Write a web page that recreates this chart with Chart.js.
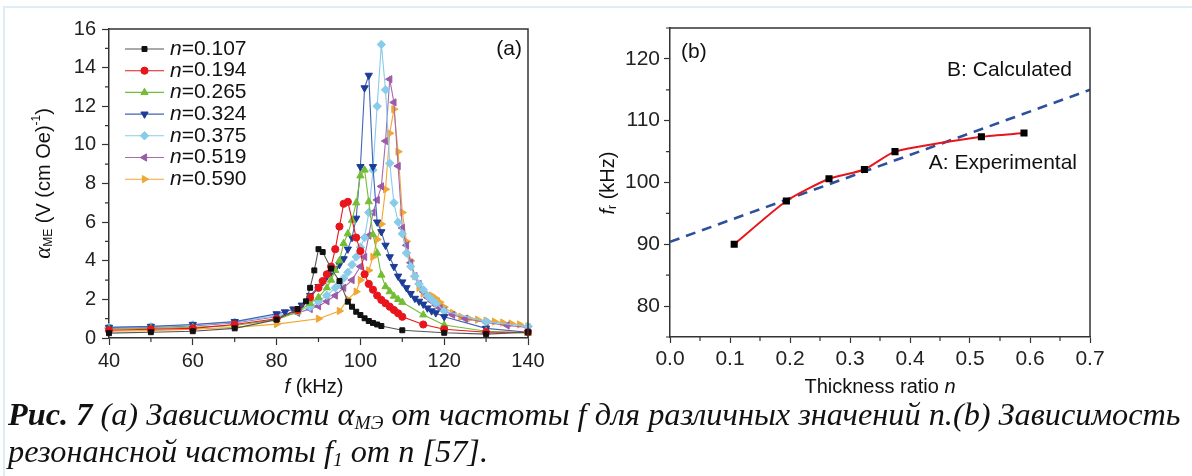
<!DOCTYPE html>
<html lang="ru">
<head>
<meta charset="UTF-8">
<title>Рис. 7</title>
<script src="https://cdn.jsdelivr.net/npm/chart.js@4.4.1/dist/chart.umd.min.js"></script>
<style>
  body { margin: 0; background: #fff; width: 1192px; height: 476px; position: relative; overflow: hidden; }
  .frame { position: absolute; left: 3px; top: 6px; right: 0; bottom: 0; border-top: 2px solid #dceff9; border-left: 2px solid #dceff9; }
  canvas { position: absolute; top: 0; }
  #caption { position: absolute; left: 8px; top: 396px; font-family: 'Liberation Serif', 'Times New Roman', serif; font-style: italic; font-size: 32.3px; line-height: 37px; color: #111; white-space: nowrap; }
  #caption sub { font-size: 60%; vertical-align: -4px; line-height: 0; }
</style>
</head>
<body>
<div class="frame"></div>
<canvas id="chartA" width="580" height="400" style="left:0"></canvas>
<canvas id="chartB" width="612" height="400" style="left:580px"></canvas>
<div id="caption"><b>Рис. 7</b> (a) Зависимости α<sub>МЭ</sub> от частоты f для различных значений n.(b) Зависимость<br>резонансной частоты f<sub>1</sub> от n [57].</div>

<script>
// (a) alpha_ME vs frequency, one pair of arrays per thickness ratio
var freq107 = [40,50,60,70,80,85,87,88,89,90,91,93,95,97,98,99,100,101,102,103,104,105,110,120,130,140]
var alpha107 = [0.25,0.3,0.35,0.5,0.95,1.5,1.9,2.6,3.5,4.6,4.45,3.6,2.95,1.88,1.62,1.36,1.19,1.02,0.88,0.78,0.7,0.62,0.4,0.27,0.2,0.3]

var freq194 = [40,50,60,70,80,85,88,90,91,92,93,94,95,96,97,99,100,101,102,103,104,105,106,107,108,109,110,115,120,130,140]
var alpha194 = [0.4,0.45,0.5,0.7,1.0,1.45,2.1,2.6,2.95,3.3,3.7,4.6,5.77,6.95,7.05,5.2,4.5,3.3,2.8,2.5,2.2,1.97,1.8,1.62,1.45,1.28,1.1,0.7,0.45,0.3,0.3]

var freq265 = [40,50,60,70,80,85,88,90,92,93,94,95,96,97,98,99,100,101,102,103,104,105,106,107,108,109,110,115,120,130,140]
var alpha265 = [0.45,0.5,0.55,0.65,0.95,1.35,1.8,2.1,2.6,3.0,3.5,4.0,4.9,5.4,6.1,7.0,8.4,8.7,7.06,5.35,4.4,3.26,2.66,2.4,2.17,2.0,1.85,1.2,0.67,0.35,0.25]

var freq324 = [40,50,60,70,80,82,84,86,88,90,91,92,93,94,95,96,97,98,99,100,101,102,103,104,105,106,107,108,109,110,111,112,113,114,115,116,117,118,120,130,140]
var alpha324 = [0.55,0.6,0.7,0.85,1.25,1.35,1.5,1.7,2.2,2.66,2.9,3.2,3.4,3.6,3.8,4.1,4.6,5.2,6.2,8.87,12.95,13.6,8.87,6.0,5.5,4.8,4.2,3.7,3.2,2.9,2.6,2.3,2.05,1.9,1.75,1.55,1.4,1.3,1.1,0.5,0.3]

var freq375 = [40,50,60,70,80,85,88,90,92,94,95,96,97,98,99,100,101,102,103,104,105,106,107,108,109,110,111,112,113,114,115,116,117,118,120,130,140]
var alpha375 = [0.55,0.58,0.68,0.82,1.15,1.4,1.6,1.9,2.2,2.6,2.8,3.1,3.4,3.8,4.2,4.7,5.2,6.5,8.7,12.0,15.2,12.85,9.05,7.0,6.0,5.4,4.4,3.7,3.2,2.8,2.5,2.2,2.0,1.8,1.4,0.85,0.6]

var freq519 = [40,50,60,70,80,85,88,90,92,94,96,98,100,101,102,103,104,105,106,107,108,109,110,111,112,113,114,115,116,117,118,119,120,122,125,130,135,140]
var alpha519 = [0.5,0.55,0.62,0.78,1.1,1.3,1.5,1.65,1.9,2.2,2.6,3.0,3.7,4.2,5.3,6.5,7.15,7.85,10.2,13.4,12.2,8.9,5.7,4.8,3.9,3.2,2.8,2.4,2.1,1.9,1.7,1.55,1.4,1.2,1.0,0.8,0.65,0.55]

var freq590 = [40,50,60,70,80,90,95,97,99,100,102,103,104,105,106,107,108,109,110,111,112,113,114,115,116,117,118,119,120,122,124,126,128,130,132,134,136,138,140]
var alpha590 = [0.35,0.38,0.45,0.55,0.72,1.0,1.4,2.0,2.4,3.0,3.5,4.2,5.1,5.9,7.7,10.6,11.85,9.65,6.5,5.0,4.0,3.2,2.6,2.3,2.25,2.2,2.05,1.85,1.6,1.3,1.1,1.0,0.95,0.9,0.85,0.8,0.75,0.7,0.6]

var nLabels = ["0.107", "0.194", "0.265", "0.324", "0.375", "0.519", "0.590"]

// (b) resonance frequency vs thickness ratio
var nExp = [0.107, 0.194, 0.265, 0.324, 0.375, 0.519, 0.590]
var frExp = [90, 97, 100.6, 102.1, 105, 107.4, 108]
var nCalc = [0, 0.7]
var frCalc = [90.4, 115]
</script>

<script>
Chart.defaults.font.family = "'Liberation Sans', Arial, sans-serif";
Chart.defaults.color = '#222';

function pts(xs, ys) {
    var out = [];
    for (var i = 0; i < xs.length; i++) out.push({x: xs[i], y: ys[i]});
    return out;
}

function isMajor(v, every) {
    var k = Math.round(v / every * 1000) / 1000;
    return Math.abs(k - Math.round(k)) < 1e-6;
}

// draws a run of text pieces (font / vertical shift) centred on x,y
function rich(ctx, parts, x, y, angle) {
    var w = 0;
    parts.forEach(function(p) { ctx.font = p[1]; w += ctx.measureText(p[0]).width; });
    ctx.save();
    ctx.translate(x, y);
    ctx.rotate(angle || 0);
    ctx.textBaseline = 'middle';
    ctx.textAlign = 'left';
    var cx = -w / 2;
    parts.forEach(function(p) {
        ctx.font = p[1];
        ctx.fillText(p[0], cx, p[2] || 0);
        cx += ctx.measureText(p[0]).width;
    });
    ctx.restore();
}

// top/right frame plus short minor ticks
function boxLines(chart) {
    var ctx = chart.ctx, a = chart.chartArea;
    ctx.save();
    ctx.strokeStyle = '#333';
    ctx.lineWidth = 1.5;
    ctx.beginPath();
    ctx.moveTo(a.left, a.top);
    ctx.lineTo(a.right, a.top);
    ctx.lineTo(a.right, a.bottom);
    ctx.stroke();
    ctx.lineWidth = 1.2;
    var sx = chart.scales.x, sy = chart.scales.y;
    ctx.beginPath();
    sx.ticks.forEach(function(t) {
        if (isMajor(t.value, sx.options.every)) return;
        var px = sx.getPixelForValue(t.value);
        ctx.moveTo(px, a.bottom); ctx.lineTo(px, a.bottom + 4);
    });
    sy.ticks.forEach(function(t) {
        if (isMajor(t.value, sy.options.every)) return;
        var py = sy.getPixelForValue(t.value);
        ctx.moveTo(a.left, py); ctx.lineTo(a.left - 4, py);
    });
    ctx.stroke();
    ctx.restore();
}

function axisStyle(min, max, step, size, every, len) {
    return {
        type: 'linear', min: min, max: max, every: every,
        ticks: {
            stepSize: step, autoSkip: false, maxRotation: 0, padding: 4,
            font: {size: size}, color: '#222',
            callback: function(v) {
                if (!isMajor(v, every)) return '';
                return every < 1 ? v.toFixed(1) : v;
            }
        },
        grid: {
            drawOnChartArea: false, drawTicks: true, tickLength: len, tickWidth: 1.2,
            tickColor: function(c) { return c.tick && isMajor(c.tick.value, every) ? '#333' : 'rgba(0,0,0,0)'; }
        },
        border: {color: '#333', width: 1.5}
    };
}

var series = [
    {f: freq107, a: alpha107, c: '#111111', l: '#555555', s: 'rect', r: 3.5, rot: 0},
    {f: freq194, a: alpha194, c: '#e8161c', l: '#e8161c', s: 'circle', r: 3.6, rot: 0},
    {f: freq265, a: alpha265, c: '#74bd34', l: '#74bd34', s: 'triangle', r: 4.2, rot: 0},
    {f: freq324, a: alpha324, c: '#1d3c95', l: '#4563b4', s: 'triangle', r: 4.2, rot: 180},
    {f: freq375, a: alpha375, c: '#88cbea', l: '#88cbea', s: 'rectRot', r: 4.2, rot: 0},
    {f: freq519, a: alpha519, c: '#9c5ba8', l: '#a66bb0', s: 'triangle', r: 4.2, rot: 270},
    {f: freq590, a: alpha590, c: '#f0a733', l: '#f0a733', s: 'triangle', r: 4.2, rot: 90}
]

var dsA = series.map(function(s, i) {
    return {
        label: 'n=' + nLabels[i],
        data: pts(s.f, s.a),
        showLine: true,
        borderColor: s.l, borderWidth: 1.1,
        pointStyle: s.s, pointRadius: s.r, pointRotation: s.rot,
        pointBackgroundColor: s.c, pointBorderColor: s.c, pointBorderWidth: 1,
        clip: 8
    };
});

var xA = axisStyle(40, 140, 10, 20, 20, 7);
xA.afterFit = function(s) { s.height = 62; };
var yA = axisStyle(0, 16, 1, 20, 2, 7);
yA.ticks.padding = 6;
yA.afterFit = function(s) { s.width = 109; };

new Chart(document.getElementById('chartA'), {
    type: 'scatter',
    data: {datasets: dsA},
    options: {
        responsive: false, animation: false, events: [],
        layout: {padding: {left: 0, top: 29, right: 52, bottom: 0}},
        plugins: {legend: {display: false}, tooltip: {enabled: false}},
        scales: {x: xA, y: yA}
    },
    plugins: [{
        id: 'decorA',
        afterDraw: function(chart) {
            var ctx = chart.ctx;
            boxLines(chart);
            ctx.save();
            ctx.fillStyle = '#111';
            // in-plot legend
            series.forEach(function(s, i) {
                var y = 49 + i * 21.7;
                ctx.strokeStyle = s.l;
                ctx.lineWidth = 1.1;
                ctx.beginPath(); ctx.moveTo(125, y); ctx.lineTo(164, y); ctx.stroke();
                ctx.fillStyle = s.c; ctx.strokeStyle = s.c; ctx.lineWidth = 1;
                Chart.helpers.drawPoint(ctx, {pointStyle: s.s, radius: s.r, rotation: s.rot, borderWidth: 1}, 144.5, y);
                ctx.fillStyle = '#111';
                ctx.textBaseline = 'middle';
                ctx.font = "italic 21px 'Liberation Sans'";
                ctx.fillText('n', 170, y);
                var w = ctx.measureText('n').width;
                ctx.font = "21px 'Liberation Sans'";
                ctx.fillText('=' + nLabels[i], 170 + w, y);
            });
            ctx.font = "21px 'Liberation Sans'";
            ctx.textAlign = 'right';
            ctx.fillText('(a)', 522, 49);
            ctx.restore();
            ctx.save();
            ctx.fillStyle = '#111';
            rich(ctx, [['α', "italic 23px 'Liberation Serif'"], ['ME', "12px 'Liberation Sans'", 5],
                       [' (V (cm Oe)', "20px 'Liberation Sans'"], ['-1', "12px 'Liberation Sans'", -7],
                       [')', "20px 'Liberation Sans'"]], 44, 183.5, -Math.PI / 2);
            rich(ctx, [['f', "italic 20px 'Liberation Sans'"], [' (kHz)', "20px 'Liberation Sans'"]], 314, 387);
            ctx.restore();
        }
    }]
});

var xB = axisStyle(0, 0.7, 0.05, 21, 0.1, 6);
xB.afterFit = function(s) { s.height = 63; };
var yB = axisStyle(75, 125, 5, 21, 10, 6);
yB.afterFit = function(s) { s.width = 90; };

new Chart(document.getElementById('chartB'), {
    type: 'scatter',
    data: {datasets: [
        {
            label: 'A: Experimental', data: pts(nExp, frExp), showLine: true,
            borderColor: '#e8161c', borderWidth: 2, tension: 0.2,
            pointStyle: 'rect', pointRadius: 3.6, pointBackgroundColor: '#000', pointBorderColor: '#000'
        },
        {
            label: 'B: Calculated', data: pts(nCalc, frCalc), showLine: true,
            borderColor: '#2d4f9c', borderWidth: 2.6, borderDash: [10, 7], pointRadius: 0
        }
    ]},
    options: {
        responsive: false, animation: false, events: [],
        layout: {padding: {left: 0, top: 28, right: 102, bottom: 0}},
        plugins: {legend: {display: false}, tooltip: {enabled: false}},
        scales: {x: xB, y: yB}
    },
    plugins: [{
        id: 'decorB',
        afterDraw: function(chart) {
            var ctx = chart.ctx;
            boxLines(chart);
            ctx.save();
            ctx.fillStyle = '#111';
            ctx.textBaseline = 'middle';
            ctx.font = "21px 'Liberation Sans'";
            ctx.fillText('(b)', 101, 52);
            ctx.textAlign = 'right';
            ctx.fillText('B: Calculated', 492, 70);
            ctx.fillText('A: Experimental', 497, 163);
            rich(ctx, [['f', "italic 20px 'Liberation Sans'"], ['r', "12px 'Liberation Sans'", 5],
                       [' (kHz)', "20px 'Liberation Sans'"]], 28, 183, -Math.PI / 2);
            rich(ctx, [['Thickness ratio ', "20px 'Liberation Sans'"], ['n', "italic 20px 'Liberation Sans'"]], 300, 387);
            ctx.restore();
        }
    }]
});
</script>
</body>
</html>
